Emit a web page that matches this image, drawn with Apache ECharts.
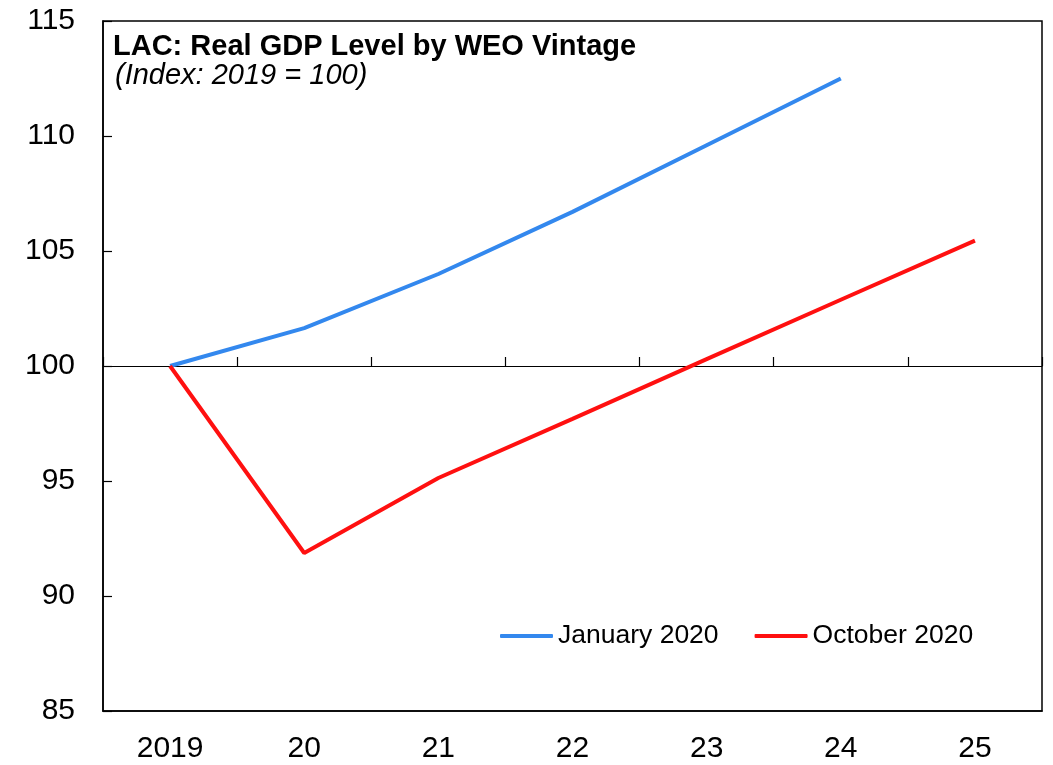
<!DOCTYPE html>
<html>
<head>
<meta charset="utf-8">
<script src="https://cdn.jsdelivr.net/npm/echarts@6/dist/echarts.min.js"></script>
<style>html,body{margin:0;padding:0;background:#fff}#c{width:1053px;height:765px}</style>
</head>
<body>
<div id="c"></div>
<script>
const categories = ['2019', '20', '21', '22', '23', '24', '25'];
const jan2020 = [100, 101.65, 104.0, 106.7, 109.6, 112.5, null];
const oct2020 = [100, 91.87, 95.13, 97.7, 100.3, 102.88, 105.45];
const yTicks = { min: 85, max: 115, interval: 5 };
const titleText = 'LAC: Real GDP Level by WEO Vintage';
const subtitleText = '(Index: 2019 = 100)';
const seriesNames = ['January 2020', 'October 2020'];

const FONT = 'Liberation Sans, Arial, sans-serif';
const chart = echarts.init(document.getElementById('c'), null, { renderer: 'canvas' });
chart.setOption({
  animation: false,
  backgroundColor: '#fff',
  title: [
    { text: titleText, left: 113, top: 32, padding: 0,
      textStyle: { fontFamily: FONT, fontSize: 29, fontWeight: 'bold', color: '#000', lineHeight: 29 } },
    { text: subtitleText, left: 115, top: 61, padding: 0,
      textStyle: { fontFamily: FONT, fontSize: 29, fontStyle: 'italic', fontWeight: 'normal', color: '#000', lineHeight: 29 } }
  ],
  legend: {
    left: 500, top: 622, itemWidth: 53, itemHeight: 4, itemGap: 36, padding: 0,
    icon: 'roundRect',
    textStyle: { fontFamily: FONT, fontSize: 26.5, color: '#000', lineHeight: 28 },
    data: seriesNames
  },
  grid: { left: 103, right: 11, top: 21, bottom: 54, show: true, borderColor: '#000', borderWidth: 1.5, backgroundColor: 'transparent' },
  xAxis: [
    { type: 'category', data: categories, position: 'bottom', boundaryGap: true,
      axisLine: { show: true, lineStyle: { color: '#000', width: 1.5 } },
      axisTick: { show: false },
      axisLabel: { fontFamily: FONT, fontSize: 30, color: '#000', margin: 23 },
      splitLine: { show: false } },
    { type: 'category', data: categories, position: 'bottom', offset: -345, boundaryGap: true,
      axisLine: { show: true, lineStyle: { color: '#000', width: 1.2 } },
      axisTick: { show: true, inside: true, length: 9, lineStyle: { color: '#000', width: 1.2 } },
      axisLabel: { show: false },
      splitLine: { show: false } }
  ],
  yAxis: {
    type: 'value', min: yTicks.min, max: yTicks.max, interval: yTicks.interval,
    axisLine: { show: true, lineStyle: { color: '#000', width: 1.5 } },
    axisTick: { show: true, inside: true, length: 9, lineStyle: { color: '#000', width: 1.2 } },
    axisLabel: { fontFamily: FONT, fontSize: 30, color: '#000', margin: 28 },
    splitLine: { show: false }
  },
  series: [
    { name: seriesNames[0], type: 'line', data: jan2020, symbol: 'none', xAxisIndex: 0,
      lineStyle: { color: '#3388EE', width: 4 }, itemStyle: { color: '#3388EE' } },
    { name: seriesNames[1], type: 'line', data: oct2020, symbol: 'none', xAxisIndex: 0,
      lineStyle: { color: '#FF1010', width: 4 }, itemStyle: { color: '#FF1010' } }
  ]
});
</script>
</body>
</html>
